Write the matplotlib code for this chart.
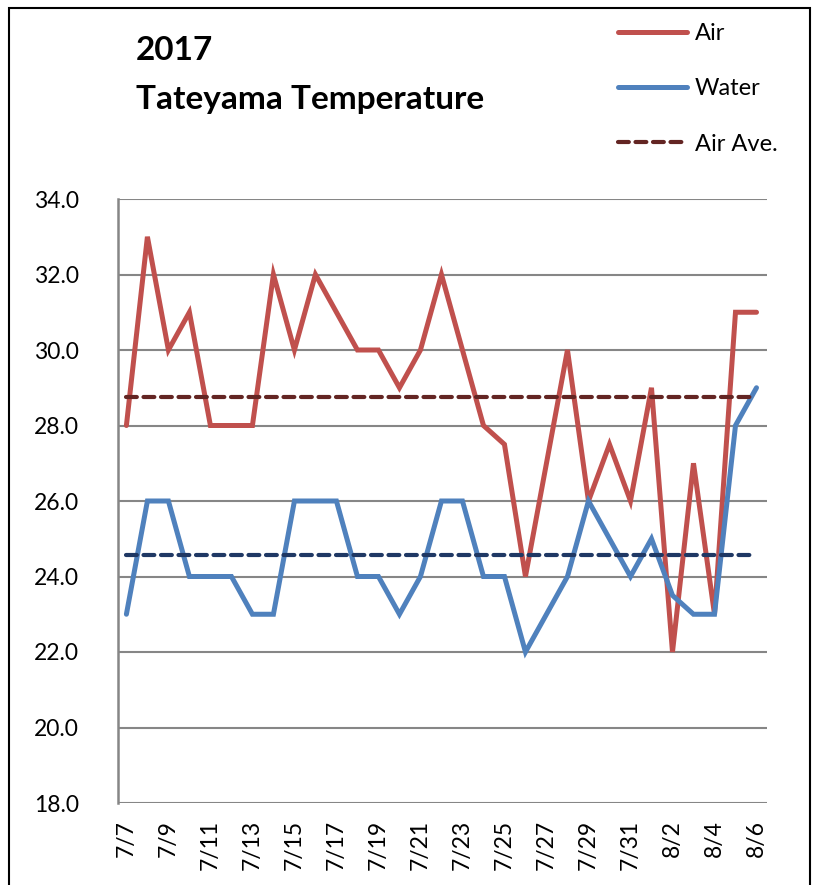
import numpy as np
import matplotlib
matplotlib.use('Agg')
from matplotlib import pyplot as plt
from matplotlib.patches import Rectangle

# daily values 7/7 .. 8/6
dates = ['7/%d' % d for d in range(7, 32)] + ['8/%d' % d for d in range(1, 7)]
air = [28, 33, 30, 31, 28, 28, 28, 32, 30, 32, 31, 30, 30, 29, 30, 32,
       30, 28, 27.5, 24, 27, 30, 26, 27.5, 26, 29, 22, 27, 23, 31, 31]
water = [23, 26, 26, 24, 24, 24, 23, 23, 26, 26, 26, 24, 24, 23, 24, 26,
         26, 24, 24, 22, 23, 24, 26, 25, 24, 25, 23.5, 23, 23, 28, 29]
yticks = [18, 20, 22, 24, 26, 28, 30, 32, 34]

plt.rcParams['font.family'] = ['Lato', 'DejaVu Sans']

x = np.arange(len(dates))
air_ave = np.full(len(dates), np.mean(air))
water_ave = np.full(len(dates), np.mean(water))

fig = plt.figure(figsize=(8.14, 8.85), dpi=100)
ax = fig.add_axes([118/814, 1-803/885, (767-118)/814, (803-199)/885])

ax.plot(x, air, color='#C0504D', lw=3.6, solid_joinstyle='miter', solid_capstyle='round', label='Air', zorder=3)
ax.plot(x, water, color='#4F81BD', lw=3.6, solid_joinstyle='miter', solid_capstyle='round', label='Water', zorder=3)
ax.plot(x, air_ave, color='#632523', lw=3, dashes=(2.6, 1.6), dash_capstyle='round', label='Air Ave.', zorder=4)
ax.plot(x, water_ave, color='#1F3864', lw=3, dashes=(2.6, 1.6), dash_capstyle='round', zorder=4)

ax.set_xlim(-0.4, 30.5)
ax.set_ylim(18, 34)
ax.set_yticks(yticks)
ax.set_yticklabels(['%.1f' % v for v in yticks], fontsize=16.5)
ax.set_xticks(x[::2])
ax.set_xticklabels(dates[::2], rotation=90, fontsize=16.5)
ax.tick_params(length=0, pad=12)
ax.tick_params(axis='y', pad=28)
ax.grid(axis='y', color='#868686', lw=1.5)
ax.set_axisbelow(True)
for s in ['top', 'right', 'bottom']:
    ax.spines[s].set_visible(False)
ax.spines['left'].set_color('#868686')
ax.spines['left'].set_linewidth(1.8)

fig.text(136/814, 1-50/885, '2017', fontsize=24, fontweight='bold', va='center', ha='left')
fig.text(136/814, 1-99/885, 'Tateyama Temperature', fontsize=24, fontweight='bold', va='center', ha='left')

fig.legend(loc='upper left', bbox_to_anchor=(597/814, 1-2/885), frameon=False, fontsize=17,
           handlelength=2.9, labelspacing=1.45, handletextpad=0.35)

fig.patches.append(Rectangle((9/814, -0.02), (810-9)/814, 1.02-8/885, transform=fig.transFigure,
                             fill=False, edgecolor='black', lw=1.5))

fig.savefig('out.png', dpi=100)
